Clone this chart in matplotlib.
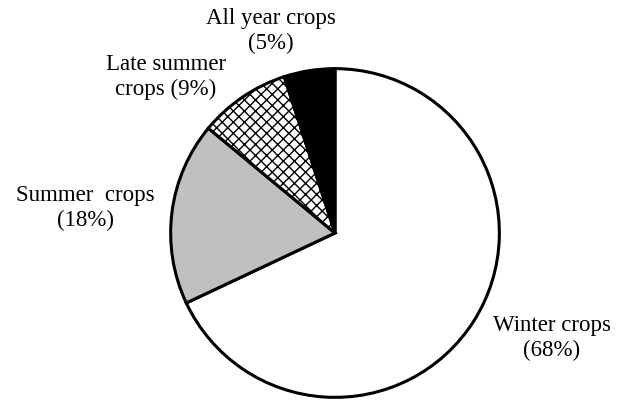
import matplotlib.pyplot as plt

labels = ["Winter crops\n(68%)", "Summer  crops\n(18%)", "Late summer\ncrops (9%)", "All year crops\n(5%)"]
shares = [68, 18, 9, 5]
colors = ["white", "#c0c0c0", "white", "black"]
hatches = ["", "", "xxx", ""]
# label centres in pixels (x from left, y from top)
label_px = [(552, 338), (85, 208), (166, 77), (271, 31)]

W, H = 617, 401
fig = plt.figure(figsize=(W / 100, H / 100), dpi=100)
cx, cy, r = 335, 233, 166
ax = fig.add_axes([(cx - r) / W, (H - cy - r) / H, 2 * r / W, 2 * r / H])

wedges, _ = ax.pie(shares, colors=colors, startangle=90, counterclock=False,
                   radius=1, frame=True,
                   wedgeprops=dict(edgecolor="black", linewidth=2.2))
for w, h in zip(wedges, hatches):
    w.set_hatch(h)
ax.set_xlim(-1.01, 1.01)
ax.set_ylim(-1.01, 1.01)
ax.axis("off")

for lab, (px, py) in zip(labels, label_px):
    fig.text(px / W, 1 - py / H, lab, ha="center", va="center",
             fontsize=16.5, family="Liberation Serif", linespacing=1.25)

fig.savefig("out.png", dpi=100)
